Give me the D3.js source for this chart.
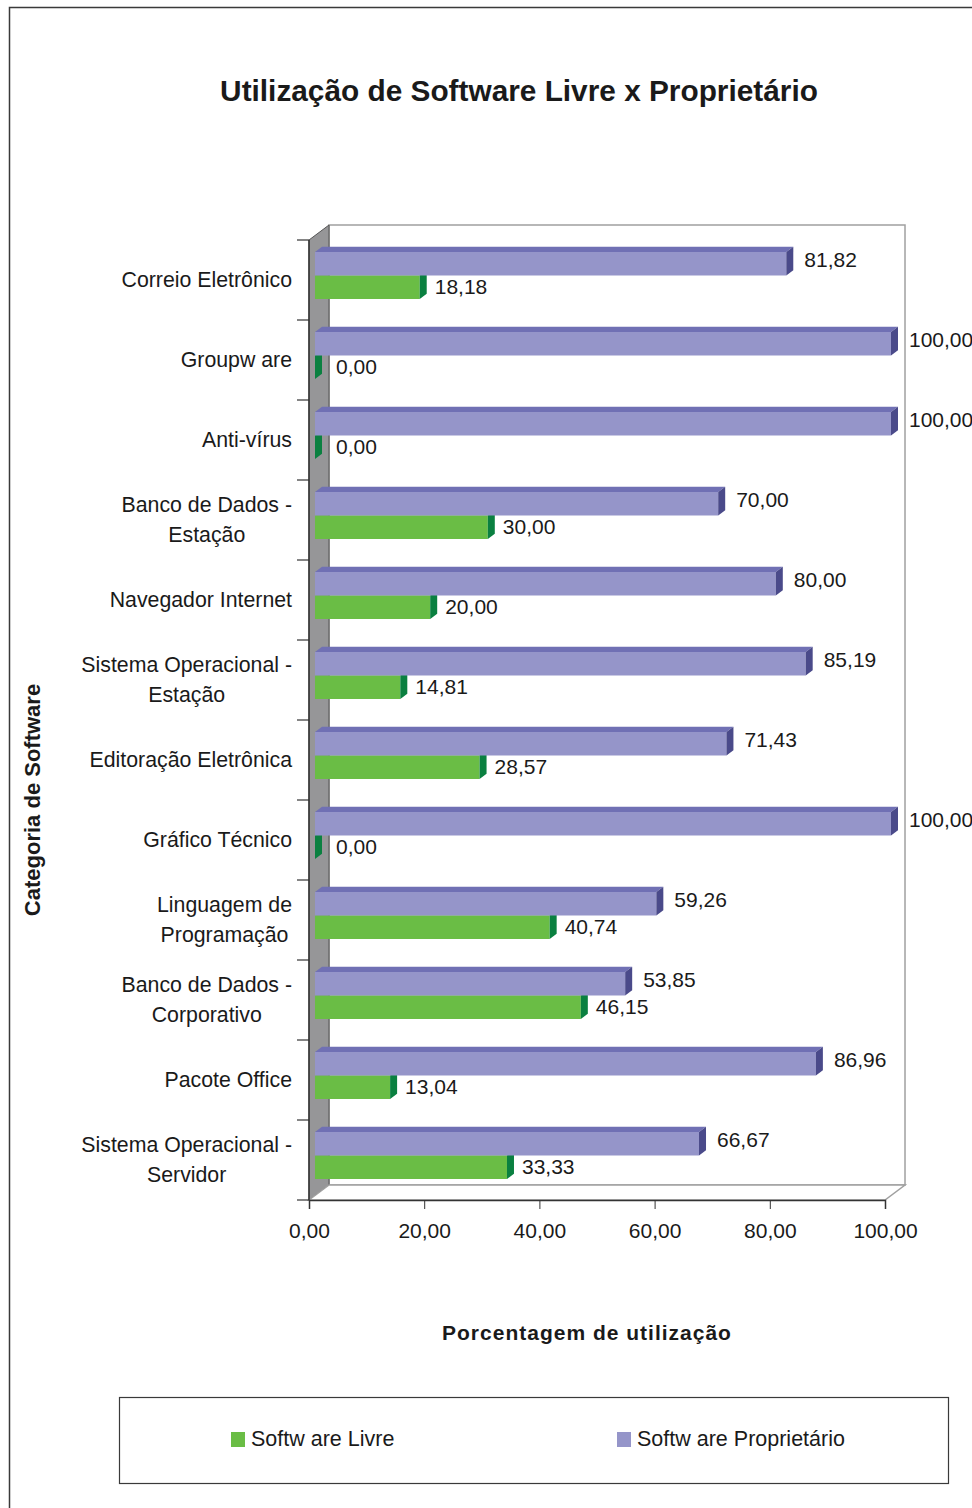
<!DOCTYPE html>
<html>
<head>
<meta charset="utf-8">
<script src="https://cdn.jsdelivr.net/npm/d3@7"></script>
<style>
  body { margin: 0; background: #fff; }
  text { font-family: "Liberation Sans", Arial, sans-serif; fill: #1a1a1a; }
</style>
</head>
<body>
<div id="plot-container"></div>
<script>

// data (top to bottom)
var categories = [
  "Correio Eletrônico",
  "Groupw are",
  "Anti-vírus",
  "Banco de Dados -\nEstação",
  "Navegador Internet",
  "Sistema Operacional -\nEstação",
  "Editoração Eletrônica",
  "Gráfico Técnico",
  "Linguagem de\nProgramação",
  "Banco de Dados -\nCorporativo",
  "Pacote Office",
  "Sistema Operacional -\nServidor"
]
var livre = [18.18, 0, 0, 30, 20, 14.81, 28.57, 0, 40.74, 46.15, 13.04, 33.33]
var proprietario = [81.82, 100, 100, 70, 80, 85.19, 71.43, 100, 59.26, 53.85, 86.96, 66.67]
var xTicks = [0, 20, 40, 60, 80, 100]
var seriesNames = ["Softw are Livre", "Softw are Proprietário"]

var fmt = function (v) { return d3.format(".2f")(v).replace(".", ",") }

// page / plot box
var W = 972, H = 1508
var pLeft = 309, pRight = 885, pTop = 240, pBottom = 1200
var dx = 20, dy = -15          // wall depth
var bx = 6, by = -4.5          // bars sit a bit inside the box
var bdx = 7, bdy = -5.25       // bar thickness

var svg = d3.select("#plot-container").append("svg")
  .attr("width", W).attr("height", H)

// outer frame
svg.append("rect")
  .attr("x", 9.5).attr("y", 7.5).attr("width", 990).attr("height", 1520)
  .attr("fill", "none").attr("stroke", "#3a3a3a").attr("stroke-width", 1.5)

// scales
var xScale = d3.scaleLinear().domain([0, 100]).range([pLeft, pRight])
var yScale = d3.scaleBand().domain(categories).range([pTop, pBottom])
var inner = d3.scaleBand().domain(["prop", "livre"]).range([16.5, yScale.bandwidth() - 16.5])

// back wall
svg.append("rect")
  .attr("x", pLeft + dx).attr("y", pTop + dy)
  .attr("width", pRight - pLeft).attr("height", pBottom - pTop)
  .attr("fill", "#fff").attr("stroke", "#a0a0a0").attr("stroke-width", 1.5)

// left wall
svg.append("path")
  .attr("d", "M" + pLeft + "," + pTop + "L" + (pLeft + dx) + "," + (pTop + dy) +
             "L" + (pLeft + dx) + "," + (pBottom + dy) + "L" + pLeft + "," + pBottom + "Z")
  .attr("fill", "#969698").attr("stroke", "#555").attr("stroke-width", 1)

// floor
svg.append("path")
  .attr("d", "M" + pLeft + "," + pBottom + "L" + (pLeft + dx) + "," + (pBottom + dy) +
             "L" + (pRight + dx) + "," + (pBottom + dy) + "L" + pRight + "," + pBottom + "Z")
  .attr("fill", "#fff").attr("stroke", "#a0a0a0").attr("stroke-width", 1.5)

// axes
svg.append("g")
  .attr("transform", "translate(0," + pBottom + ")")
  .call(d3.axisBottom(xScale).tickValues(xTicks).tickFormat(fmt).tickSizeOuter(0).tickSize(9).tickPadding(14))
  .call(g => g.select(".domain").attr("stroke", "#333").attr("stroke-width", 1.5))
  .call(g => g.selectAll("line").attr("stroke", "#333"))
  .call(g => g.selectAll("text").attr("font-size", 21).attr("font-family", "Liberation Sans, Arial, sans-serif").attr("fill", "#1a1a1a"))

svg.append("line")
  .attr("x1", pLeft).attr("x2", pLeft).attr("y1", pTop).attr("y2", pBottom)
  .attr("stroke", "#333").attr("stroke-width", 1.5)

var bounds = categories.map(c => yScale(c)).concat([pBottom])
svg.append("g").selectAll("line").data(bounds).enter().append("line")
  .attr("x1", pLeft - 12).attr("x2", pLeft)
  .attr("y1", d => d).attr("y2", d => d)
  .attr("stroke", "#333").attr("stroke-width", 1.2)

// category labels: block right aligned, lines centred inside the block
var catG = svg.append("g").selectAll("text").data(categories).enter().append("text")
  .attr("text-anchor", "middle").attr("font-size", 21.3)
  .attr("transform", d => "translate(292," + (yScale(d) + yScale.bandwidth() / 2) + ")")
catG.each(function (d) {
  var lines = d.split("\n")
  var t = d3.select(this)
  var spans = lines.map(function (l, i) {
    return t.append("tspan")
      .attr("y", (i - (lines.length - 1) / 2) * 30)
      .attr("dy", "0.35em").text(l)
  })
  var maxW = d3.max(spans, s => s.node().getComputedTextLength())
  spans.forEach(s => s.attr("x", -maxW / 2))
})

// 3d bar helper
function bar(g, x0, x1, y0, h, front, topC, side) {
  var fx0 = x0 + bx, fx1 = x1 + bx, fy = y0 + by
  g.append("path")
    .attr("d", "M" + fx0 + "," + fy + "L" + (fx0 + bdx) + "," + (fy + bdy) +
               "L" + (fx1 + bdx) + "," + (fy + bdy) + "L" + fx1 + "," + fy + "Z")
    .attr("fill", topC)
  g.append("rect").attr("x", fx0).attr("y", fy).attr("width", fx1 - fx0).attr("height", h).attr("fill", front)
  g.append("path")
    .attr("d", "M" + fx1 + "," + fy + "L" + (fx1 + bdx) + "," + (fy + bdy) +
               "L" + (fx1 + bdx) + "," + (fy + h + bdy) + "L" + fx1 + "," + (fy + h) + "Z")
    .attr("fill", side)
}

var bars = svg.append("g")
categories.forEach(function (c, i) {
  var g = bars.append("g")
  var h = inner.bandwidth()
  bar(g, xScale(0), xScale(livre[i]), yScale(c) + inner("livre"), h, "#6abd45", "#58a83a", "#0a8040")
  bar(g, xScale(0), xScale(proprietario[i]), yScale(c) + inner("prop"), h, "#9595c9", "#7070b4", "#4a4a8a")
})

// value labels
var lab = svg.append("g").attr("font-size", 21)
categories.forEach(function (c, i) {
  lab.append("text")
    .attr("x", xScale(proprietario[i]) + bx + bdx + 11)
    .attr("y", yScale(c) + inner("prop") + by + 8).attr("dy", "0.35em")
    .text(fmt(proprietario[i]))
  lab.append("text")
    .attr("x", xScale(livre[i]) + bx + bdx + (livre[i] === 0 ? 14 : 8))
    .attr("y", yScale(c) + inner("livre") + by + 11).attr("dy", "0.35em")
    .text(fmt(livre[i]))
})

// titles
svg.append("text").attr("x", 519).attr("y", 101).attr("text-anchor", "middle")
  .attr("font-size", 29.8).attr("font-weight", "bold")
  .text("Utilização de Software Livre x Proprietário")

svg.append("text").attr("transform", "translate(40,800) rotate(-90)").attr("text-anchor", "middle")
  .attr("font-size", 22).attr("font-weight", "bold")
  .text("Categoria de Software")

svg.append("text").attr("x", 587).attr("y", 1340).attr("text-anchor", "middle")
  .attr("font-size", 21).attr("font-weight", "bold").attr("letter-spacing", 1)
  .text("Porcentagem de utilização")

// legend
svg.append("rect").attr("x", 119.5).attr("y", 1397.5).attr("width", 829).attr("height", 86)
  .attr("fill", "#fff").attr("stroke", "#3a3a3a").attr("stroke-width", 1.2)

var legColor = d3.scaleOrdinal().domain(seriesNames).range(["#6abd45", "#9595c9"])
var leg = svg.append("g").selectAll("g").data(seriesNames).enter().append("g")
  .attr("transform", (d, i) => "translate(" + [231, 617][i] + ",1432)")
leg.append("rect").attr("width", 14).attr("height", 15).attr("fill", d => legColor(d))
leg.append("text").attr("x", 20).attr("y", 6).attr("dy", "0.35em").attr("font-size", 21.5).text(d => d)

</script>
</body>
</html>
